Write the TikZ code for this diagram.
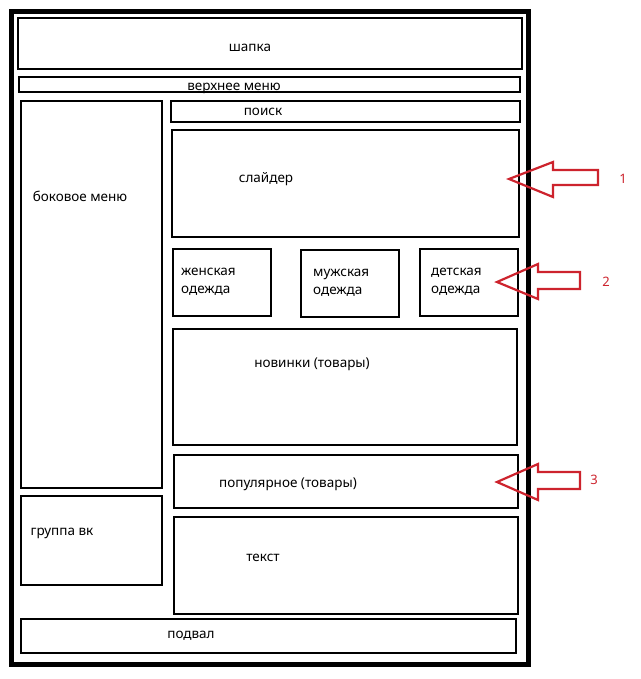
\documentclass[tikz,border=0pt]{standalone}
\usepackage{fontspec}
\setmainfont{Noto Sans}
\definecolor{arrred}{RGB}{205,35,45}
\begin{document}
\begin{tikzpicture}[x=1pt,y=-1pt,
  box/.style={draw=black,line width=1.2pt},
  lbl/.style={font=\fontsize{13.5}{15}\selectfont,inner sep=0pt,text height=1ex,text depth=0pt,yshift=-2.5pt},
  two/.style={lbl,anchor=west},
  redarrow/.style={draw=arrred,line width=2.2pt,line join=miter},
  num/.style={text=arrred,font=\fontsize{13}{14}\selectfont,inner sep=0pt,text height=1.4ex,text depth=0pt,yshift=-1pt}]
\useasboundingbox (0,0) rectangle (640,679);
\fill[white] (0,0) rectangle (640,679);
\draw[line width=5pt] (11.5,11.5) rectangle (528.5,664.5);
% boxes
\draw[box] (18,18) rectangle (522,69);
\draw[box] (19,77) rectangle (520,92);
\draw[box] (21,101) rectangle (162,488);
\draw[box] (171,101) rectangle (520,122);
\draw[box] (172,130) rectangle (519,237);
\draw[box] (173,249) rectangle (271,316);
\draw[box] (301,250) rectangle (399,317);
\draw[box] (420,249) rectangle (518,316);
\draw[box] (173,329) rectangle (517,445);
\draw[box] (174,455) rectangle (518,508);
\draw[box] (21,496) rectangle (162,585);
\draw[box] (174,517) rectangle (518,614);
\draw[box] (21,619) rectangle (516,653);
% labels
\node[lbl] (shapka) at (250,46) {шапка};
\node[lbl] (vmenu) at (234,85) {верхнее меню};
\node[lbl] (poisk) at (263,110) {поиск};
\node[lbl] (slider) at (266,177) {слайдер};
\node[lbl] (bmenu) at (80,196) {боковое меню};
\node[two] (zhen1) at (181,270.5) {женская};
\node[two] (zhen2) at (181,288.5) {одежда};
\node[two] (muzh1) at (313,271.5) {мужская};
\node[two] (muzh2) at (313,289.5) {одежда};
\node[two] (det1) at (431,270.5) {детская};
\node[two] (det2) at (431,288.5) {одежда};
\node[lbl] (nov) at (312,362) {новинки (товары)};
\node[lbl] (pop) at (288,482) {популярное (товары)};
\node[lbl] (vk) at (62,530) {группа вк};
\node[lbl] (tekst) at (263,556) {текст};
\node[lbl] (podval) at (191,633) {подвал};
% red arrows
\draw[redarrow] (509,179) -- (553,162) -- (553,170) -- (598,170) -- (598,185) -- (553,185) -- (553,197) -- cycle;
\draw[redarrow] (497,282) -- (538,264) -- (538,272) -- (580,272) -- (580,289) -- (538,289) -- (538,299) -- cycle;
\draw[redarrow] (497,482) -- (538,464) -- (538,472) -- (580,472) -- (580,489) -- (538,489) -- (538,500) -- cycle;
\node[num] (n1) at (623,179) {1};
\node[num] (n2) at (606,282) {2};
\node[num] (n3) at (594,480) {3};
\end{tikzpicture}
\end{document}
